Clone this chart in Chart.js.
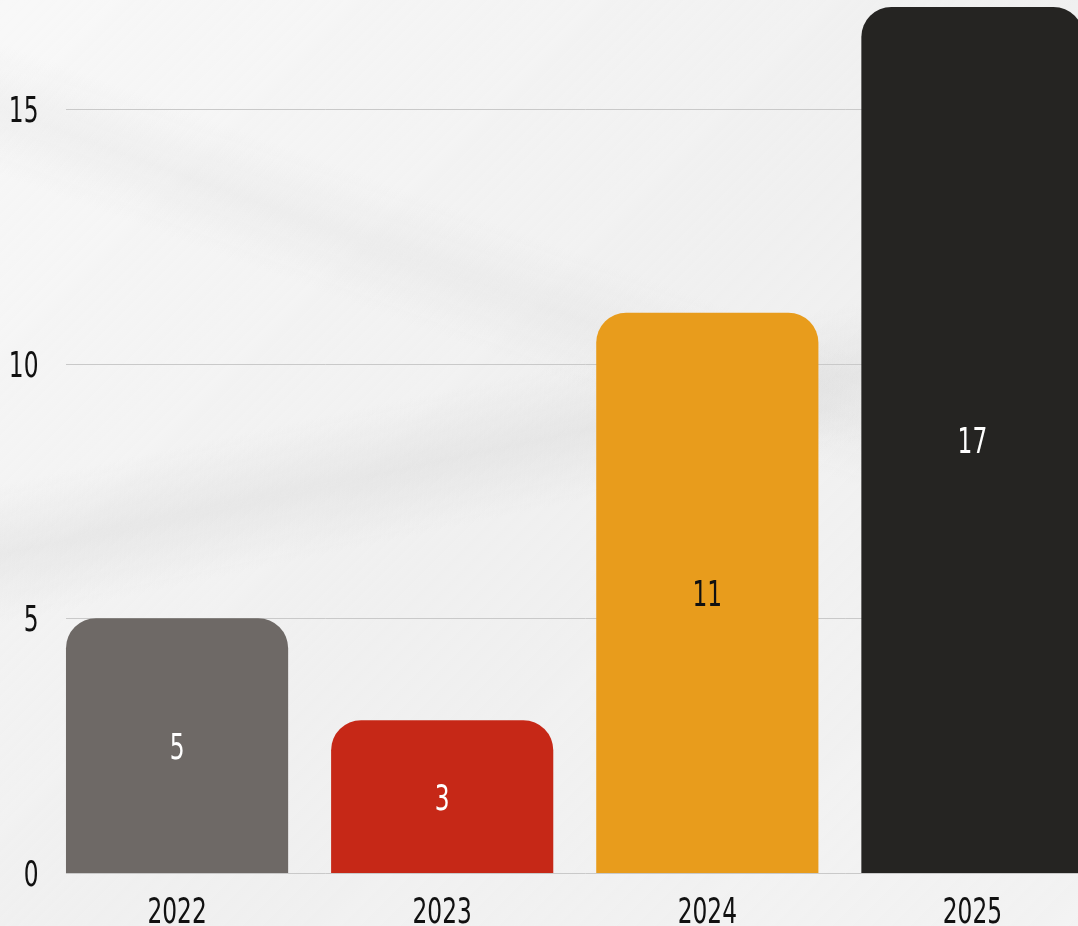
<!DOCTYPE html>
<html>
<head>
<meta charset="utf-8">
<script src="https://cdn.jsdelivr.net/npm/chart.js@4/dist/chart.umd.min.js"></script>
<style>
  html, body { margin: 0; padding: 0; width: 1078px; height: 926px; overflow: hidden; }
  body {
    background-color: #f1f1f1;
    background-image:
      linear-gradient(168deg, rgba(255,255,255,0) 42%, rgba(205,205,205,0.28) 48%, rgba(255,255,255,0) 54%),
      linear-gradient(20deg, rgba(255,255,255,0) 57%, rgba(215,215,215,0.22) 62%, rgba(255,255,255,0) 67%),
      linear-gradient(135deg, rgba(255,255,255,0.5) 0%, rgba(235,235,235,0.2) 50%, rgba(245,245,245,0.4) 100%);
  }
  #wrap { position: absolute; left: 0; top: 0; }
</style>
</head>
<body>
<div id="wrap"><canvas id="c" width="1105" height="926"></canvas></div>
<script>
// ---- data ----
const categories = ['2022', '2023', '2024', '2025'];
const values = [5, 3, 11, 17];
const yTicks = [0, 5, 10, 15];

// ---- styles ----
const barColors = ['#6e6966', '#c62817', '#e89c1c', '#252422'];
const labelColors = ['#ffffff', '#ffffff', '#111111', '#ffffff'];
const FONT_FAMILY = "'DejaVu Sans Condensed', 'DejaVu Sans', sans-serif";
const FONT_SIZE = 36;
const SQUEEZE = 0.72;      // horizontal condensing of the text
const CAP = 13;            // half digit height, to centre digits

function drawText(ctx, text, x, y, align, color) {
  ctx.save();
  ctx.font = FONT_SIZE + 'px ' + FONT_FAMILY;
  ctx.fillStyle = color;
  ctx.textBaseline = 'alphabetic';
  ctx.textAlign = align;
  ctx.translate(x, y + CAP);
  ctx.scale(SQUEEZE, 1);
  ctx.fillText(text, 0, 0);
  ctx.restore();
}

const gridPlugin = {
  id: 'customGrid',
  beforeDatasetsDraw(chart) {
    const ctx = chart.ctx;
    const y = chart.scales.y;
    const first = chart.getDatasetMeta(0).data[0];
    const x0 = first.x - first.width / 2;
    const x1 = chart.chartArea.right;
    ctx.save();
    ctx.strokeStyle = '#c9c9c9';
    ctx.lineWidth = 1;
    y.ticks.forEach(t => {
      const py = Math.round(y.getPixelForValue(t.value)) + 0.5;
      ctx.beginPath();
      ctx.moveTo(x0, py);
      ctx.lineTo(x1, py);
      ctx.stroke();
    });
    ctx.restore();
  }
};

const labelPlugin = {
  id: 'textLabels',
  afterDatasetsDraw(chart) {
    const ctx = chart.ctx;
    const meta = chart.getDatasetMeta(0);
    meta.data.forEach((bar, i) => {
      drawText(ctx, String(values[i]), bar.x, (bar.y + bar.base) / 2, 'center', labelColors[i]);
    });
    const xs = chart.scales.x;
    xs.ticks.forEach((t, i) => {
      drawText(ctx, categories[i], xs.getPixelForTick(i), chart.chartArea.bottom + 37, 'center', '#111111');
    });
    const ys = chart.scales.y;
    ys.ticks.forEach(t => {
      drawText(ctx, String(t.value), ys.right - 6, ys.getPixelForValue(t.value), 'right', '#111111');
    });
  }
};

new Chart(document.getElementById('c'), {
  type: 'bar',
  data: {
    labels: categories,
    datasets: [{
      data: values,
      backgroundColor: barColors,
      borderRadius: 30,
      borderSkipped: 'start',
      barPercentage: 0.838,
      categoryPercentage: 1
    }]
  },
  options: {
    responsive: false,
    devicePixelRatio: 1,
    animation: false,
    layout: { padding: { top: 7, left: 0, right: 0, bottom: 0 } },
    plugins: { legend: { display: false }, tooltip: { enabled: false } },
    scales: {
      x: {
        grid: { display: false, drawTicks: false },
        border: { display: false },
        ticks: { display: false },
        afterFit(scale) { scale.height = 53; scale.paddingLeft = 0; scale.paddingRight = 0; }
      },
      y: {
        min: 0,
        max: 17,
        grid: { display: false, drawTicks: false },
        border: { display: false },
        ticks: { display: false },
        afterBuildTicks(scale) {
          scale.ticks = yTicks.map(v => ({ value: v }));
        },
        afterFit(scale) { scale.width = 44.5; scale.paddingTop = 0; scale.paddingBottom = 0; }
      }
    }
  },
  plugins: [gridPlugin, labelPlugin]
});
</script>
</body>
</html>
